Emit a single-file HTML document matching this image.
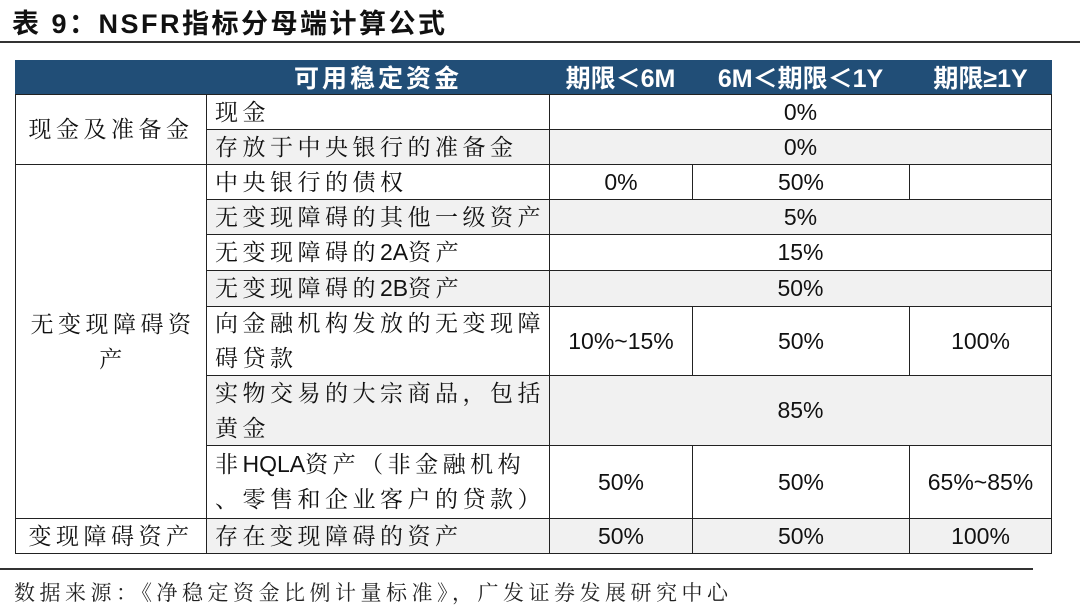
<!DOCTYPE html>
<html><head><meta charset="utf-8"><style>
body{margin:0;width:1080px;height:607px;background:#fff;position:relative;overflow:hidden;font-family:"Liberation Sans","Noto Serif CJK SC",serif;}
.c{position:absolute;box-sizing:border-box;border:1.5px solid #222;display:flex;align-items:center;justify-content:center;font-size:23px;color:#111;line-height:35px;text-align:center;}
.l{justify-content:flex-start;padding-left:8px;text-align:left;}
.g{background:#f1f1f1;}
.h{position:absolute;background:#214e77;color:#fff;font-weight:bold;font-size:25px;display:flex;align-items:center;justify-content:center;top:60px;height:34px;font-family:"Liberation Sans","Noto Sans CJK SC",sans-serif;}
.s{font-family:"Liberation Serif","Noto Serif CJK SC",serif;letter-spacing:4.5px;}
.a{font-family:"Liberation Sans",sans-serif;letter-spacing:0;}
</style></head><body>
<div style="position:absolute;left:12px;top:2px;font-size:27px;letter-spacing:2.5px;font-weight:bold;font-family:'Liberation Sans','Noto Sans CJK SC',sans-serif;color:#111">表 9：NSFR指标分母端计算公式</div>
<div style="position:absolute;left:0;top:41px;width:1080px;height:2px;background:#333"></div>
<div class="h" style="left:15px;width:1037px"></div>
<div class="h" style="left:206px;width:343px;justify-content:flex-start;padding-left:88px;box-sizing:border-box;letter-spacing:3px">可用稳定资金</div>
<div class="h" style="left:549px;width:143px">期限＜6M</div>
<div class="h" style="left:692px;width:217px">6M＜期限＜1Y</div>
<div class="h" style="left:909px;width:143px">期限≥1Y</div>

<div class="c s" style="left:15px;top:94px;width:192px;height:71px">现金及准备金</div>
<div class="c s l" style="left:206px;top:94px;width:344px;height:36px">现金</div>
<div class="c" style="left:549px;top:94px;width:503px;height:36px">0%</div>
<div class="c s l g" style="left:206px;top:129px;width:344px;height:36px">存放于中央银行的准备金</div>
<div class="c g" style="left:549px;top:129px;width:503px;height:36px">0%</div>

<div class="c s" style="left:15px;top:164px;width:192px;height:355px;padding:0 4px 0 8px"><div>无变现障碍资<br>产</div></div>
<div class="c s l" style="left:206px;top:164px;width:344px;height:36px">中央银行的债权</div>
<div class="c" style="left:549px;top:164px;width:144px;height:36px">0%</div>
<div class="c" style="left:692px;top:164px;width:218px;height:36px">50%</div>
<div class="c" style="left:909px;top:164px;width:143px;height:36px"></div>

<div class="c s l g" style="left:206px;top:199px;width:344px;height:36px">无变现障碍的其他一级资产</div>
<div class="c g" style="left:549px;top:199px;width:503px;height:36px">5%</div>
<div class="c s l" style="left:206px;top:234px;width:344px;height:37px"><div>无变现障碍的<span class="a">2A</span>资产</div></div>
<div class="c" style="left:549px;top:234px;width:503px;height:37px">15%</div>
<div class="c s l g" style="left:206px;top:270px;width:344px;height:37px"><div>无变现障碍的<span class="a">2B</span>资产</div></div>
<div class="c g" style="left:549px;top:270px;width:503px;height:37px">50%</div>

<div class="c s l" style="left:206px;top:306px;width:344px;height:70px"><div>向金融机构发放的无变现障<br>碍贷款</div></div>
<div class="c" style="left:549px;top:306px;width:144px;height:70px">10%~15%</div>
<div class="c" style="left:692px;top:306px;width:218px;height:70px">50%</div>
<div class="c" style="left:909px;top:306px;width:143px;height:70px">100%</div>

<div class="c s l g" style="left:206px;top:375px;width:344px;height:71px"><div>实物交易的大宗商品，包括<br>黄金</div></div>
<div class="c g" style="left:549px;top:375px;width:503px;height:71px">85%</div>

<div class="c s l" style="left:206px;top:445px;width:344px;height:74px"><div>非<span class="a">HQLA</span>资产（非金融机构<br>、零售和企业客户的贷款）</div></div>
<div class="c" style="left:549px;top:445px;width:144px;height:74px">50%</div>
<div class="c" style="left:692px;top:445px;width:218px;height:74px">50%</div>
<div class="c" style="left:909px;top:445px;width:143px;height:74px">65%~85%</div>

<div class="c s" style="left:15px;top:518px;width:192px;height:36px">变现障碍资产</div>
<div class="c s l g" style="left:206px;top:518px;width:344px;height:36px">存在变现障碍的资产</div>
<div class="c g" style="left:549px;top:518px;width:144px;height:36px">50%</div>
<div class="c g" style="left:692px;top:518px;width:218px;height:36px">50%</div>
<div class="c g" style="left:909px;top:518px;width:143px;height:36px">100%</div>

<div style="position:absolute;left:0;top:568px;width:1033px;height:2px;background:#333"></div>
<div style="position:absolute;left:14px;top:577px;font-size:21px;letter-spacing:4.5px;font-family:'Noto Serif CJK SC',serif;color:#222;white-space:nowrap">数据来源：《净稳定资金比例计量标准》，广发证券发展研究中心</div>
</body></html>
